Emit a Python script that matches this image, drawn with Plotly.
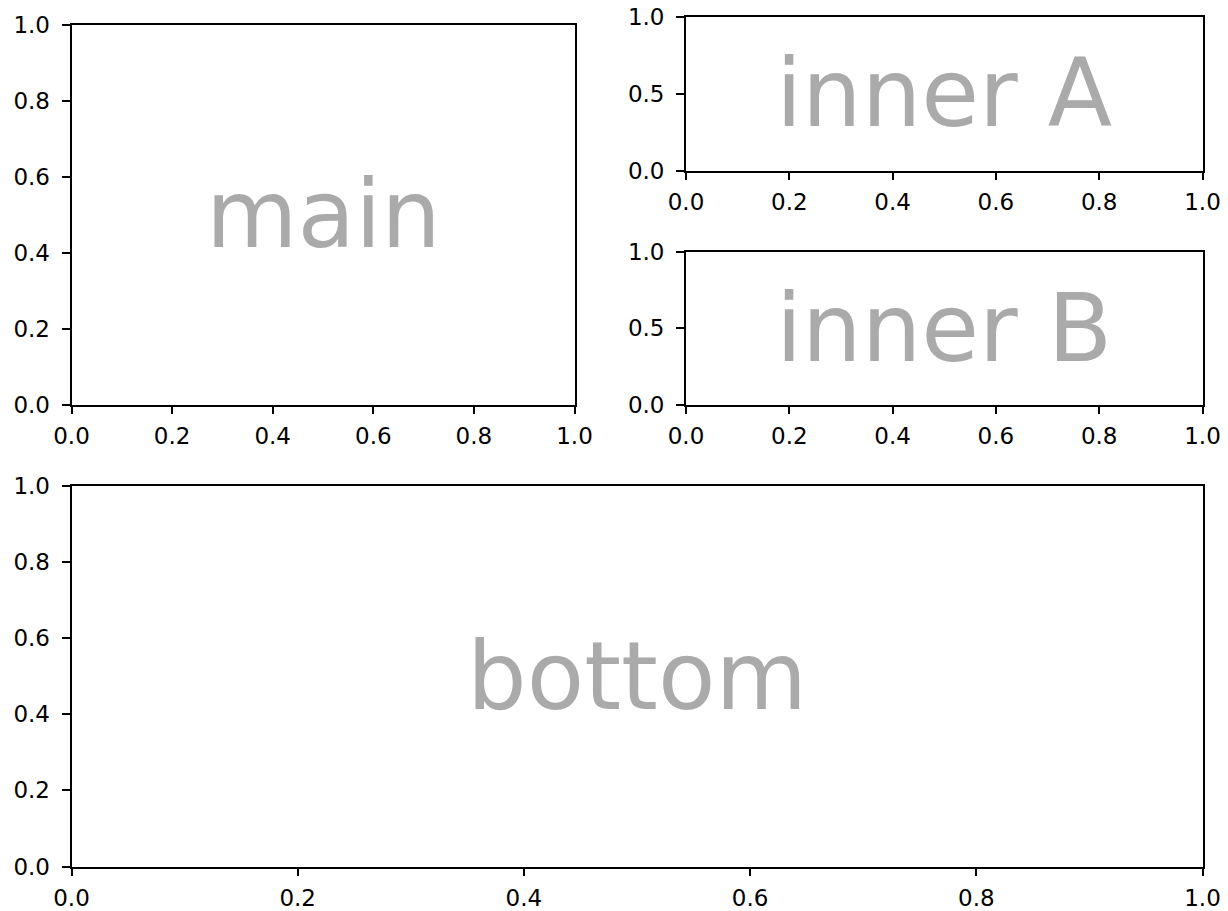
import plotly.graph_objects as go

W, H = 1228, 911

panel_labels = ["main", "inner A", "inner B", "bottom"]
ticks_fine = [0.0, 0.2, 0.4, 0.6, 0.8, 1.0]
ticks_coarse = [0.0, 0.5, 1.0]
axis_range = [0.0, 1.0]

# pixel boxes (left, top, right, bottom)
boxes = [
    (71.5, 24.5, 574.5, 404.5),
    (686.0, 16.5, 1202.5, 170.5),
    (686.0, 251.5, 1202.5, 404.5),
    (71.5, 486.0, 1202.5, 866.5),
]
yticks_per = [ticks_fine, ticks_coarse, ticks_coarse, ticks_fine]

fig = go.Figure()
font = dict(family="DejaVu Sans", size=23, color="black")

for i, (lab, box, yt) in enumerate(zip(panel_labels, boxes, yticks_per)):
    n = "" if i == 0 else str(i + 1)
    l, t, r, b = box
    fig.add_trace(go.Scatter(x=[], y=[], xaxis="x" + n, yaxis="y" + n,
                             showlegend=False))
    common = dict(range=axis_range, showline=True, linecolor="black",
                  linewidth=1.85, mirror=True, ticks="outside", ticklen=8,
                  tickcolor="black", tickwidth=1.85, showgrid=False,
                  zeroline=False, tickformat=".1f", tickfont=font,
                  fixedrange=True, automargin=False)
    fig.layout["xaxis" + n] = dict(common, domain=[l / W, r / W],
                                   anchor="y" + n, tickvals=ticks_fine,
                                   ticklabelstandoff=2)
    fig.layout["yaxis" + n] = dict(common, domain=[1 - b / H, 1 - t / H],
                                   anchor="x" + n, tickvals=yt,
                                   ticklabelstandoff=7)
    fig.add_annotation(text=lab, xref=("x" + n + " domain"),
                       yref=("y" + n + " domain"), x=0.5, y=0.5,
                       showarrow=False, xanchor="center", yanchor="middle",
                       font=dict(family="DejaVu Sans", size=94,
                                 color="#aaaaaa"))

fig.update_layout(width=W, height=H, margin=dict(l=0, r=0, t=0, b=0),
                  paper_bgcolor="white", plot_bgcolor="white",
                  font=font)

fig.write_html("out.html", config={"displayModeBar": False},
               post_script="document.body.style.margin='0';"
                           "document.body.style.overflow='hidden';")
